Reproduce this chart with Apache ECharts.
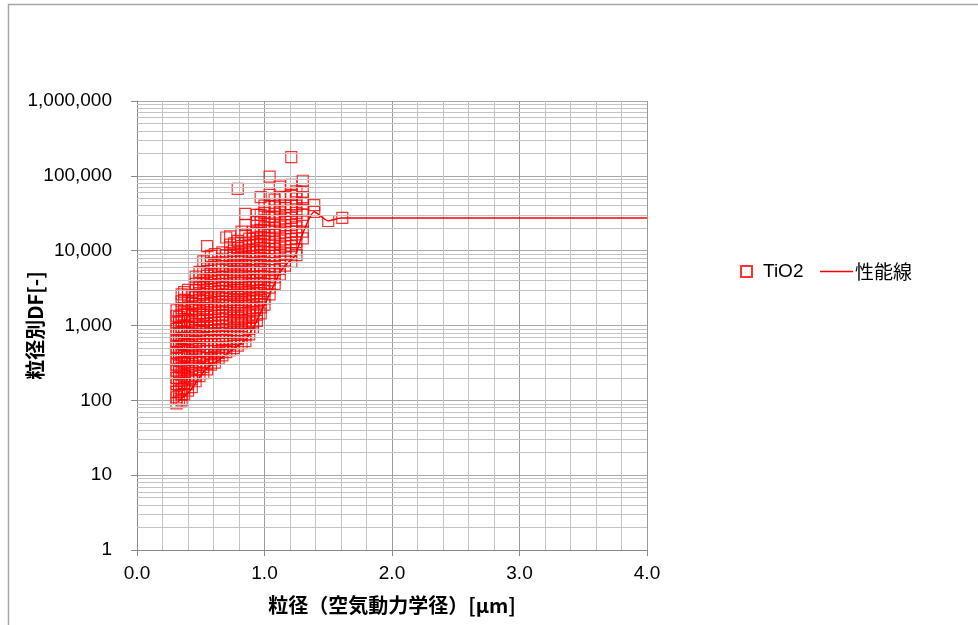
<!DOCTYPE html>
<html>
<head>
<meta charset="utf-8">
<script src="https://cdn.jsdelivr.net/npm/echarts@6/dist/echarts.min.js"></script>
<style>html,body{margin:0;padding:0;background:#fff}#c{width:978px;height:625px}</style>
</head>
<body>
<div id="c"></div>
<script>
// ---- data ----
const xTickLabels = ['0.0','1.0','2.0','3.0','4.0'];

// TiO2 scatter: particle size columns and DF values at each
const tio2X = [0.31,0.33,0.35,0.37,0.40,0.43,0.46,0.49,0.52,0.55,0.58,0.61,0.64,0.67,0.70,0.73,0.76,0.79,0.82,0.85,0.88,0.91,0.94,0.97,1.00,1.04,1.08,1.12,1.16,1.21,1.25,1.30,1.39,1.50,1.61];
const tio2Y = [
 [91,110,130,165,200,250,300,360,430,520,620,750,900,1100,1350,1600],
 [105,135,160,200,240,290,360,440,520,630,750,920,1100,1300],
 [100,120,140,180,220,270,330,400,470,570,680,820,960,1150,1400,1700,2100,2600],
 [120,145,170,210,260,320,390,470,560,670,800,960,1150,1400,1700,2200,2800],
 [135,165,200,250,310,380,460,550,660,800,950,1150,1400,1700,2100,2500,3000],
 [150,190,230,290,350,430,520,630,760,920,1100,1350,1650,2000,2500],
 [180,215,260,330,400,490,600,720,870,1050,1300,1600,1950,2400,2950,3600,4500],
 [210,260,320,380,450,560,680,830,1000,1200,1450,1800,2200,2700,3300,4200,5200],
 [230,280,330,410,510,630,780,950,1150,1400,1700,2100,2600,3200,4000,5000,7200],
 [260,310,370,460,570,700,870,1050,1300,1600,1950,2400,3000,3700,4600,5800,7500,11500],
 [300,350,410,510,640,790,980,1200,1500,1850,2300,2800,3500,4300,5400,6800,8500],
 [320,380,450,560,700,870,1080,1350,1650,2050,2500,3100,3900,4800,6000,9000],
 [360,430,510,640,800,1000,1250,1550,1900,2400,2900,3600,4500,5600,7000],
 [400,470,570,710,880,1100,1370,1700,2100,2600,3200,4000,5000,6200,7800,9500],
 [440,520,640,800,1000,1250,1550,1900,2350,2900,3600,4500,5600,7000,8700,15000],
 [470,570,700,870,1080,1350,1650,2050,2550,3150,3900,4800,6000,7500,9300,12000,15500],
 [500,620,750,930,1150,1450,1800,2200,2750,3400,4200,5200,6500,8000,10000,12500],
 [540,660,800,1000,1250,1550,1900,2400,2950,3650,4500,5600,7000,8700,10800,13500,67000],
 [580,700,870,1080,1350,1650,2050,2550,3150,3900,4800,6000,7400,9200,11500,18000],
 [620,760,930,1150,1450,1800,2200,2750,3400,4200,5200,6400,8000,10000,12500,16000,22000,31000],
 [760,900,1100,1400,1700,2100,2600,3250,4000,5000,6200,7700,9500,11800,14500],
 [930,1100,1350,1700,2100,2600,3200,4000,5000,6200,7600,9500,11800,14500,18000],
 [1150,1400,1750,2150,2700,3300,4100,5100,6300,7800,9700,12000,15000,18500,24000,30000],
 [1450,1750,2200,2700,3400,4200,5200,6400,8000,10000,12300,15300,19000,24000,30000,52000],
 [1900,2300,2900,3600,4500,5600,7000,8600,10700,13300,16500,20500,25500,32000,40000],
 [2600,3200,4000,5000,6200,7700,9600,12000,14800,18500,23000,28500,38700,55500,97500],
 [3600,4400,5500,6800,8500,10500,13000,16200,20000,25000,31000,39000,48000],
 [4800,5700,7100,8800,11000,13600,17000,21000,26000,32500,40000,52500,71600],
 [6300,7400,9200,11400,14200,17600,22000,27000,34000,42000,52000],
 [7100,9200,11500,14300,17800,22000,27500,34000,42000,55500,75500,178000],
 [8700,10500,13000,16500,20500,25500,32000,40000,50000,62000],
 [14600,18000,24400,30000,35000,43000,52000,61500,86000],
 [40700,33000],
 [24900],
 [27400]
];

// 性能線 (performance line)
const perfX = [0.32,0.42,0.53,0.64,0.74,0.85,0.93,1.00,1.06,1.12,1.18,1.24,1.30,1.39,1.50,1.60,4.00];
const perfY = [95,137,250,345,470,640,1070,1900,3100,5100,6800,8500,17000,33000,25000,27300,27300];

// minor log gridlines (2..9 per decade)
const yMinorGrid = [];
for (let e = 0; e < 6; e++) for (let m = 2; m <= 9; m++) yMinorGrid.push(m * Math.pow(10, e));

// ---- chart ----
const scatterData = [];
tio2X.forEach((x, i) => tio2Y[i].forEach(y => scatterData.push([x, y])));
const lineData = perfX.map((x, i) => [x, perfY[i]]);

const RED = '#ff0000';
const chart = echarts.init(document.getElementById('c'), null, {renderer: 'canvas'});
chart.setOption({
  animation: false,
  backgroundColor: '#fff',
  graphic: [{
    type: 'rect', silent: true, z: -10,
    shape: {x: 8.5, y: 4.5, width: 1200, height: 1000},
    style: {fill: 'none', stroke: '#a6a6a6', lineWidth: 1.5}
  }],
  grid: {left: 137, top: 101, right: 331, bottom: 75, containLabel: false, outerBoundsMode: 'none'},
  legend: [{
    data: ['TiO2'], left: 735, top: 257, icon: 'rect', itemWidth: 11, itemHeight: 11,
    textStyle: {fontSize: 19, color: '#000', fontFamily: 'Liberation Sans', padding: [0, 0, 0, 6]}
  }, {
    data: ['性能線'], left: 815, top: 257, icon: 'rect', itemWidth: 33, itemHeight: 1.5,
    textStyle: {fontSize: 19, color: '#000', fontFamily: 'Noto Sans CJK JP', padding: [0, 0, 0, -3]}
  }],
  xAxis: {
    type: 'value', min: 0, max: 4, interval: 1,
    name: '粒径（空気動力学径）[μm]', nameLocation: 'middle', nameGap: 45, nameMoveOverlap: false,
    nameTextStyle: {fontSize: 20, fontWeight: 'bold', color: '#000', fontFamily: 'Noto Sans CJK JP'},
    axisLine: {show: true, lineStyle: {color: '#888', width: 1}},
    axisTick: {show: true, length: 6, lineStyle: {color: '#888'}},
    axisLabel: {fontSize: 19, color: '#000', margin: 14, fontFamily: 'Liberation Sans',
      formatter: v => xTickLabels[Math.round(v)]},
    splitLine: {show: true, lineStyle: {color: '#9a9a9a', width: 1}},
    minorTick: {show: false, splitNumber: 5},
    minorSplitLine: {show: true, lineStyle: {color: '#c4c4c4', width: 1}}
  },
  yAxis: {
    type: 'log', logBase: 10, min: 1, max: 1000000, interval: 1,
    name: '粒径別DF[-]', nameLocation: 'middle', nameGap: 92, nameMoveOverlap: false,
    nameTextStyle: {fontSize: 20, fontWeight: 'bold', color: '#000', fontFamily: 'Noto Sans CJK JP'},
    axisLine: {show: true, lineStyle: {color: '#888', width: 1}},
    axisTick: {show: true, length: 6, lineStyle: {color: '#888'}},
    axisLabel: {fontSize: 19, color: '#000', margin: 25, fontFamily: 'Liberation Sans',
      formatter: v => Math.round(v).toLocaleString('en-US')},
    splitLine: {show: true, lineStyle: {color: '#a8a8a8', width: 1}}
  },
  series: [{
    name: 'grid-minor', type: 'line', data: [], z: 1, silent: true,
    markLine: {
      silent: true, symbol: 'none', animation: false,
      label: {show: false},
      lineStyle: {color: '#c4c4c4', type: 'solid', width: 1},
      data: yMinorGrid.map(v => ({yAxis: v}))
    }
  }, {
    name: 'TiO2', type: 'scatter', z: 2, symbol: 'rect', symbolSize: 11,
    itemStyle: {color: 'rgba(255,255,255,0)', borderColor: RED, borderWidth: 1.2},
    data: scatterData
  }, {
    name: '性能線', type: 'line', z: 3, smooth: 0.2, symbol: 'none', showSymbol: false,
    lineStyle: {color: RED, width: 1.5},
    itemStyle: {color: RED},
    data: lineData
  }]
});
</script>
</body>
</html>
